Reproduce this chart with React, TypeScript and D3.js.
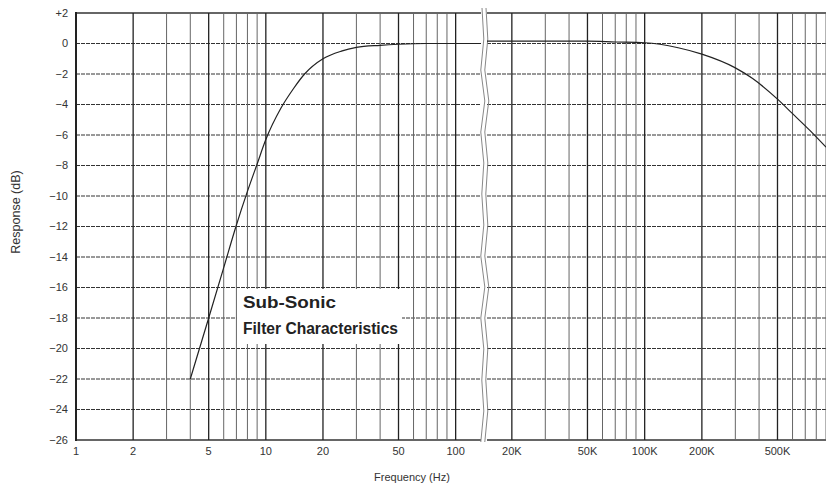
import React from "react";
import * as d3 from "d3";

// low band (Hz) and response (dB)
const lowFreq = [4, 5, 6, 7, 8, 9, 10, 12, 14, 16, 20, 25, 30, 40, 50, 70, 100, 136];
const lowResp = [-22, -18, -14.7, -11.9, -9.7, -7.9, -6.3, -4.25, -2.95, -2.0, -1.0, -0.5, -0.26, -0.12, -0.05, 0, 0, 0];

// high band (Hz) and response (dB)
const highFreq = [14800, 20000, 30000, 50000, 70000, 100000, 150000, 200000, 300000, 370000, 500000, 600000, 740000, 900000];
const highResp = [0.15, 0.15, 0.15, 0.15, 0.1, 0.05, -0.28, -0.7, -1.6, -2.3, -3.65, -4.6, -5.7, -6.8];

const yTicks = [2, 0, -2, -4, -6, -8, -10, -12, -14, -16, -18, -20, -22, -24, -26];
const lowGrid = [2, 3, 4, 5, 6, 7, 8, 9, 10, 20, 30, 40, 50, 60, 70, 80, 90, 100];
const highGrid = [20000, 30000, 40000, 50000, 60000, 70000, 80000, 90000, 100000, 200000, 300000, 400000, 500000, 600000, 700000, 800000, 900000];
const lowTicks = [1, 2, 5, 10, 20, 50, 100];
const lowLabels = ["1", "2", "5", "10", "20", "50", "100"];
const highTicks = [20000, 50000, 100000, 200000, 500000];
const highLabels = ["20K", "50K", "100K", "200K", "500K"];

const font = "'Liberation Sans', Arial, sans-serif";

export default function App() {
  const width = 826, height = 490;
  const top = 13, bottom = 440;

  const y = d3.scaleLinear().domain([2, -26]).range([top, bottom]);
  const xLow = d3.scaleLog().domain([1, 136]).range([76, 481]);
  const xHigh = d3.scaleLog().domain([14800, 900000]).range([487, 826]);

  const lowLine = d3.line<number>()
    .x((d, i) => xLow(lowFreq[i]))
    .y(d => y(d))
    .curve(d3.curveMonotoneX);
  const highLine = d3.line<number>()
    .x((d, i) => xHigh(highFreq[i]))
    .y(d => y(d))
    .curve(d3.curveMonotoneX);

  const fmtY = (v: number) => (v > 0 ? "+" + v : v < 0 ? "\u2212" + Math.abs(v) : "0");
  const isMajor = (f: number) => lowTicks.includes(f) || highTicks.includes(f);
  const edge = (t: number) => t === 2 || t === -26;

  // torn-paper break between the two bands
  const wave = (x0: number) => {
    const p = d3.path();
    p.moveTo(x0, 8);
    const steps = 14;
    for (let i = 1; i <= steps; i++) {
      const yy = 8 + (i * (bottom + 2 - 8)) / steps;
      p.lineTo(x0 + (i % 2 ? 1.8 : -1.2) + (i % 3 === 0 ? 1 : 0), yy);
    }
    return p.toString();
  };

  return (
    <svg width={width} height={height} style={{ position: "absolute", left: 0, top: 0, background: "#fff" }}>
      {/* horizontal grid */}
      {yTicks.map(t => (
        <g key={"h" + t}>
          <line x1={76} x2={481} y1={y(t)} y2={y(t)} stroke="#333" strokeWidth={edge(t) ? 1.6 : 1} strokeDasharray={edge(t) ? undefined : "4 1"} />
          <line x1={487} x2={826} y1={y(t)} y2={y(t)} stroke="#333" strokeWidth={edge(t) ? 1.6 : 1} strokeDasharray={edge(t) ? undefined : "4 1"} />
        </g>
      ))}
      {/* vertical grid */}
      {lowGrid.map(f => (
        <line key={"vl" + f} x1={xLow(f)} x2={xLow(f)} y1={top} y2={bottom} stroke={isMajor(f) ? "#222" : "#666"} strokeWidth={isMajor(f) ? 1.3 : 1} />
      ))}
      {highGrid.map(f => (
        <line key={"vh" + f} x1={xHigh(f)} x2={xHigh(f)} y1={top} y2={bottom} stroke={isMajor(f) ? "#222" : "#666"} strokeWidth={isMajor(f) ? 1.3 : 1} />
      ))}
      <line x1={76} x2={76} y1={top - 1} y2={bottom + 1} stroke="#222" strokeWidth={2} />

      {/* break */}
      <path d={wave(482)} fill="none" stroke="#888" strokeWidth={1} />
      <path d={wave(486)} fill="none" stroke="#888" strokeWidth={1} />

      {/* curves */}
      <path d={lowLine(lowResp) || ""} fill="none" stroke="#222" strokeWidth={1.2} />
      <path d={highLine(highResp) || ""} fill="none" stroke="#222" strokeWidth={1.2} />

      {/* caption */}
      <rect x={237} y={289} width={165} height={55} fill="#fff" />
      <text x={243} y={308} fontFamily={font} fontWeight="bold" fontSize={16} fill="#222" textLength={93} lengthAdjust="spacingAndGlyphs">Sub-Sonic</text>
      <text x={243} y={334} fontFamily={font} fontWeight="bold" fontSize={16} fill="#222" textLength={155} lengthAdjust="spacingAndGlyphs">Filter Characteristics</text>

      {/* y tick labels */}
      {yTicks.map(t => (
        <text key={"yl" + t} x={68} y={y(t)} dy="0.35em" textAnchor="end" fontFamily={font} fontSize={11} fill="#333">{fmtY(t)}</text>
      ))}
      {/* x tick labels */}
      {lowTicks.map((f, i) => (
        <text key={"xl" + f} x={xLow(f)} y={455} textAnchor="middle" fontFamily={font} fontSize={11} fill="#333">{lowLabels[i]}</text>
      ))}
      {highTicks.map((f, i) => (
        <text key={"xh" + f} x={xHigh(f)} y={455} textAnchor="middle" fontFamily={font} fontSize={11} fill="#333">{highLabels[i]}</text>
      ))}

      <text x={412} y={481} textAnchor="middle" fontFamily={font} fontSize={11} fill="#333">Frequency (Hz)</text>
      <text transform="translate(20,212) rotate(-90)" textAnchor="middle" fontFamily={font} fontSize={12.5} fill="#333">Response (dB)</text>
    </svg>
  );
}
